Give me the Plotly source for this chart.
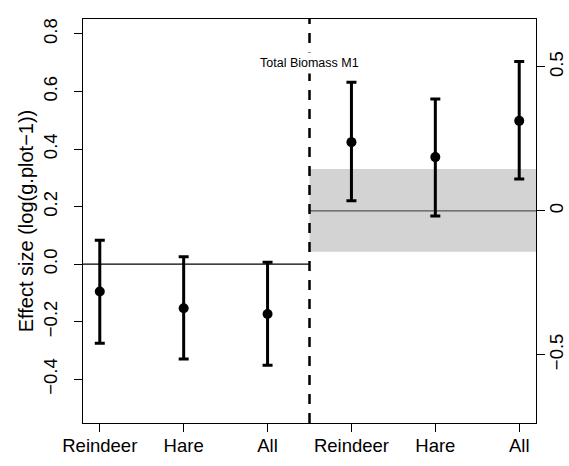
import plotly.graph_objects as go

categories = ["Reindeer", "Hare", "All", "Reindeer", "Hare", "All"]
positions = [1, 2, 3, 4, 5, 6]
effect = [-0.095, -0.153, -0.173, 0.424, 0.372, 0.498]
upper = [0.083, 0.026, 0.007, 0.632, 0.574, 0.704]
lower = [-0.275, -0.330, -0.351, 0.220, 0.167, 0.296]

band_low, band_high, band_mid = 0.043, 0.331, 0.1855
divider = 3.5
left_ticks = [-0.4, -0.2, 0.0, 0.2, 0.4, 0.6, 0.8]
right_ticks = [-0.5, 0.0, 0.5]
right_ticktext = ["\u22120.5", "0", "0.5"]
yrange = [-0.552, 0.852]
xrange = [0.8, 6.2]
annot_text = "Total Biomass M1"
annot_y = 0.70

FONT = "Liberation Sans, Arial, Helvetica, sans-serif"

fig = go.Figure()

fig.add_trace(go.Scatter(
    x=positions, y=effect, mode="markers",
    marker=dict(color="black", size=10, symbol="circle"),
    error_y=dict(type="data", symmetric=False,
                 array=[u - e for u, e in zip(upper, effect)],
                 arrayminus=[e - l for e, l in zip(effect, lower)],
                 color="black", thickness=3, width=5),
    showlegend=False, hoverinfo="skip",
))
# invisible trace for the right axis
fig.add_trace(go.Scatter(x=[positions[0]], y=[0], yaxis="y2", mode="markers",
                         marker=dict(opacity=0), showlegend=False, hoverinfo="skip"))

# grey band and line (right panel)
fig.add_shape(type="rect", xref="x", yref="y", x0=divider, x1=xrange[1],
              y0=band_low, y1=band_high, fillcolor="#d3d3d3", line=dict(width=0), layer="below")
fig.add_shape(type="line", xref="x", yref="y", x0=divider, x1=xrange[1],
              y0=band_mid, y1=band_mid, line=dict(color="#555555", width=1.2), layer="below")
# black zero line (left panel)
fig.add_shape(type="line", xref="x", yref="y", x0=xrange[0], x1=divider,
              y0=0, y1=0, line=dict(color="black", width=1.2), layer="below")
# dashed divider
fig.add_shape(type="line", xref="x", yref="paper", x0=divider, x1=divider,
              y0=0, y1=1, line=dict(color="black", width=2.5, dash="10px,9px"))

fig.add_annotation(x=divider, y=annot_y, xref="x", yref="y", text=annot_text,
                   showarrow=False, font=dict(family=FONT, size=12.5, color="black"),
                   bgcolor="white", borderpad=3)

fig.update_layout(
    width=569, height=466,
    margin=dict(l=83, r=33, t=19, b=43),
    plot_bgcolor="white", paper_bgcolor="white",
    font=dict(family=FONT, size=18.5, color="black"),
    xaxis=dict(range=xrange, tickvals=positions, ticktext=categories,
               ticks="outside", ticklen=8, tickcolor="black", tickwidth=1,
               ticklabelstandoff=-2, automargin=False,
               showline=True, linecolor="black", linewidth=1, mirror=True,
               showgrid=False, zeroline=False, fixedrange=True),
    yaxis=dict(range=yrange, tickvals=left_ticks, tickformat=".1f",
               ticks="outside", ticklen=8, tickcolor="black", tickwidth=1,
               tickangle=-90, ticklabelstandoff=10, automargin=False,
               showline=True, linecolor="black", linewidth=1, mirror=True,
               showgrid=False, zeroline=False,
               title=dict(text="Effect size (log(g.plot\u22121))", standoff=0,
                          font=dict(family=FONT, size=20, color="black"))),
    yaxis2=dict(overlaying="y", side="right", automargin=False,
                range=[yrange[0] - band_mid, yrange[1] - band_mid],
                tickvals=right_ticks, ticktext=right_ticktext,
                ticks="outside", ticklen=8, tickcolor="black", tickwidth=1,
                ticklabelstandoff=-4,
                tickangle=-90, showgrid=False, zeroline=False, showline=False),
)

fig.write_html("out.html")
